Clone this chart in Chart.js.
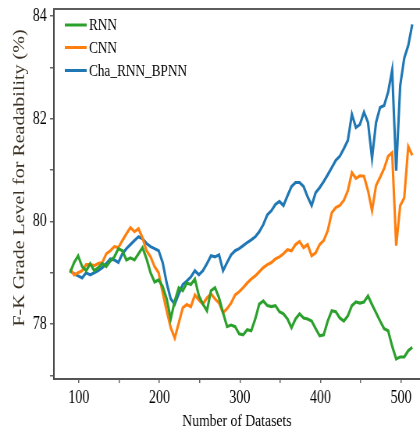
<!DOCTYPE html>
<html><head><meta charset="utf-8">
<script src="https://cdn.jsdelivr.net/npm/chart.js@4/dist/chart.umd.min.js"></script>
<style>html,body{margin:0;padding:0;background:#fff;overflow:hidden}</style>
</head><body>
<canvas id="c" width="538" height="435" style="display:block;width:420px;height:435px"></canvas>
<script>
const datasetCounts = [89,94,99,104,109,114,119,124,129,134,139,144,149,154,159,164,169,174,179,184,
  189,194,199,204,209,214,219,224,229,234,239,244,249,254,259,264,269,274,279,284,
  289,294,299,304,309,314,319,324,329,334,339,344,349,354,359,364,369,374,379,384,
  389,394,399,404,409,414,419,424,429,434,439,444,449,454,459,464,469,474,479,484,
  489,494,499,504,509,514];
const rnnValues = [79.00,79.20,79.33,79.12,79.04,79.18,79.04,79.10,79.18,79.12,
  79.23,79.31,79.47,79.43,79.25,79.29,79.25,79.37,79.49,79.27,
  79.00,78.82,78.86,78.73,78.49,78.10,78.45,78.71,78.65,78.80,
  78.77,78.88,78.55,78.39,78.26,78.65,78.71,78.51,78.22,77.95,
  77.98,77.95,77.81,77.79,77.89,77.87,78.10,78.39,78.45,78.36,
  78.34,78.36,78.24,78.20,78.10,77.93,78.10,78.20,78.12,78.10,
  78.06,77.91,77.77,77.79,78.06,78.26,78.24,78.12,78.06,78.16,
  78.36,78.43,78.41,78.43,78.55,78.38,78.22,78.06,77.91,77.87,
  77.57,77.32,77.36,77.36,77.48,77.55];
const cnnValues = [79.08,78.96,79.00,79.04,79.16,79.16,79.14,79.18,79.20,79.37,
  79.43,79.51,79.49,79.63,79.76,79.88,79.80,79.86,79.68,79.43,
  79.31,79.12,79.00,78.61,78.26,77.93,77.73,78.02,78.32,78.38,
  78.34,78.57,78.47,78.39,78.51,78.59,78.49,78.41,78.22,78.30,
  78.41,78.57,78.63,78.71,78.80,78.88,78.94,79.02,79.10,79.16,
  79.20,79.27,79.31,79.37,79.45,79.43,79.55,79.61,79.49,79.55,
  79.33,79.39,79.55,79.63,79.82,80.17,80.27,80.31,80.41,80.60,
  80.95,80.84,80.89,80.88,80.60,80.21,80.70,80.86,81.03,81.27,
  81.34,79.53,80.31,80.46,81.46,81.29];
const chaRnnBpnnValues = [79.04,78.98,78.94,78.90,79.00,78.96,79.00,79.04,79.10,79.18,
  79.27,79.25,79.20,79.37,79.47,79.55,79.63,79.70,79.66,79.57,
  79.51,79.47,79.43,79.20,78.80,78.49,78.39,78.59,78.77,78.84,
  78.92,79.04,78.96,79.04,79.18,79.33,79.31,79.35,79.04,79.20,
  79.35,79.43,79.47,79.53,79.59,79.64,79.70,79.80,79.94,80.13,
  80.21,80.33,80.39,80.31,80.50,80.68,80.76,80.76,80.68,80.48,
  80.31,80.56,80.66,80.78,80.91,81.05,81.19,81.27,81.42,81.58,
  82.09,81.83,81.89,82.13,81.93,81.23,81.93,82.22,82.26,82.52,
  82.95,80.99,82.65,83.18,83.43,83.84];
const seriesLabels = ['RNN','CNN','Cha_RNN_BPNN'];
const xTickValues = [100,150,200,250,300,350,400,450,500];
const xTickLabels = {100:'100',200:'200',300:'300',400:'400',500:'500'};
const yTickValues = [77,78,79,80,81,82,83,84];
const yTickLabels = {78:'78',80:'80',82:'82',84:'84'};
const xTitle = 'Number of Datasets';
const yTitle = 'F-K Grade Level for Readability (%)';

const colors = ['#2ca02c','#ff7f0e','#1f77b4'];
const allSeries = [rnnValues, cnnValues, chaRnnBpnnValues];
const SERIF = '"Liberation Serif", "Times New Roman", serif';

const decor = {
  id: 'decor',
  afterDraw(chart) {
    const {ctx, chartArea} = chart;
    ctx.save();
    ctx.strokeStyle = '#5c5c5c';
    ctx.lineWidth = 2;
    ctx.beginPath();
    ctx.moveTo(chartArea.left - 1, Math.round(chartArea.top));
    ctx.lineTo(chart.width, Math.round(chartArea.top));
    ctx.stroke();
    const rows = [25, 47.5, 70.5];
    chart.data.datasets.forEach((ds, i) => {
      ctx.strokeStyle = ds.borderColor;
      ctx.lineWidth = 3;
      ctx.beginPath();
      ctx.moveTo(83, rows[i]);
      ctx.lineTo(111, rows[i]);
      ctx.stroke();
      ctx.fillStyle = '#000';
      ctx.font = '17px ' + SERIF;
      ctx.textAlign = 'left';
      ctx.textBaseline = 'middle';
      ctx.fillText(ds.label, 114, rows[i] + 1);
    });
    ctx.translate(25.6, 178);
    ctx.rotate(-Math.PI / 2);
    ctx.font = '20px ' + SERIF;
    ctx.fillStyle = '#3b3122';
    ctx.textAlign = 'center';
    ctx.textBaseline = 'middle';
    ctx.fillText(yTitle, 0, 0);
    ctx.restore();
  }
};

new Chart(document.getElementById('c'), {
  type: 'line',
  data: {
    datasets: allSeries.map((vals, i) => ({
      label: seriesLabels[i],
      data: datasetCounts.map((x, k) => ({x: x, y: vals[k]})),
      borderColor: colors[i],
      backgroundColor: colors[i],
      borderWidth: 3.1,
      pointRadius: 0,
      tension: 0,
      fill: false
    }))
  },
  options: {
    responsive: false,
    animation: false,
    devicePixelRatio: 1,
    layout: {padding: {top: 9, right: 0, left: 0, bottom: 0}},
    plugins: {legend: {display: false}, tooltip: {enabled: false}},
    scales: {
      x: {
        type: 'linear', min: 68.9, max: 523.6,
        afterBuildTicks: s => { s.ticks = xTickValues.map(v => ({value: v})); },
        afterFit: s => { s.height = 56; s.paddingLeft = 0; s.paddingRight = 0; },
        ticks: {
          callback: v => xTickLabels[v] || '',
          font: {family: SERIF, size: 18, lineHeight: 1},
          color: '#000', padding: 6, maxRotation: 0, autoSkip: false
        },
        grid: {drawOnChartArea: false, drawTicks: true, tickLength: 4, color: '#666', lineWidth: 1.5},
        border: {display: true, color: '#555', width: 2},
        title: {display: true, text: xTitle, font: {family: SERIF, size: 17.5}, color: '#000', padding: {top: 0, bottom: 3}}
      },
      y: {
        type: 'linear', min: 76.93, max: 84.14,
        afterBuildTicks: s => { s.ticks = yTickValues.map(v => ({value: v})); },
        afterFit: s => { s.width = 69; s.paddingTop = 0; s.paddingBottom = 0; },
        ticks: {
          callback: v => yTickLabels[v] || '',
          font: {family: SERIF, size: 18, lineHeight: 1},
          color: '#000', padding: 4, autoSkip: false
        },
        grid: {drawOnChartArea: false, drawTicks: true, tickLength: 5, color: '#666', lineWidth: 1.5},
        border: {display: true, color: '#4a4a4a', width: 2}
      }
    }
  },
  plugins: [decor]
});
</script>
</body></html>
